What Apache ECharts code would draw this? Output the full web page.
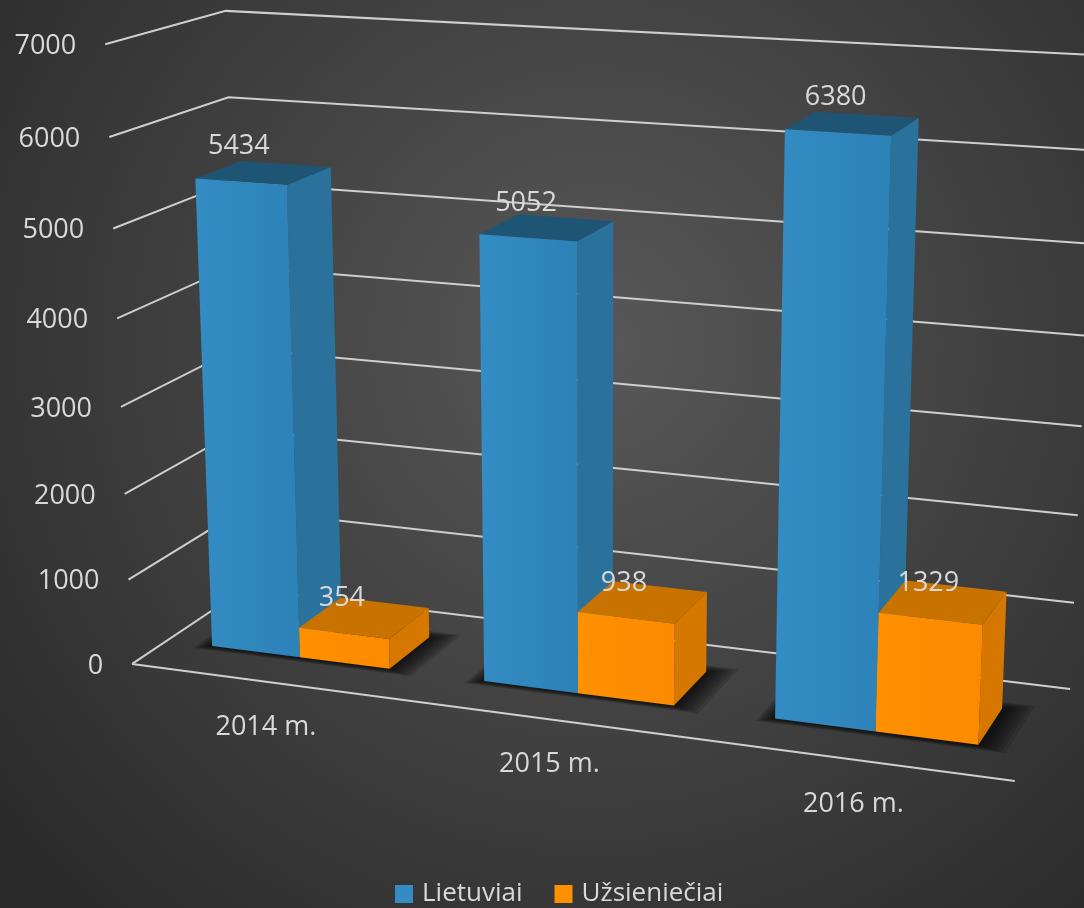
<!DOCTYPE html>
<html>
<head>
<meta charset="utf-8">
<script src="https://cdn.jsdelivr.net/npm/echarts@6/dist/echarts.min.js"></script>
<style>
  html, body { margin: 0; padding: 0; background: #2b2b2b; }
  #main { width: 1084px; height: 908px; }
</style>
</head>
<body>
<div id="main"></div>
<script>
// data
const categories = ['2014 m.', '2015 m.', '2016 m.'];
const lietuviai = [5434, 5052, 6380];
const uzsienieciai = [354, 938, 1329];
const yTicks = [0, 1000, 2000, 3000, 4000, 5000, 6000, 7000];

// frame of the 3d box: [u, y, depth, px, py]
// u: 0..1 left-right, y: 0..1 bottom-top, depth: 0 front .. 1 back
const frameRefs = [
    [0, 1, 0, 105, 44],
    [0, 6 / 7, 0, 110, 137],
    [0, 4 / 7, 0, 117, 319],
    [0, 1 / 7, 0, 128, 580],
    [0, 0, 0, 132, 664],
    [0, 1, 1, 226, 11],
    [0, 6 / 7, 1, 228, 97],
    [0, 0, 1, 245, 588],
    [1, 0, 0, 1015, 780],
    [1, 0, 1, 1070, 690],
    [1, 1, 1, 1098, 55]
];

// least squares fit of a 3x4 perspective matrix (DLT)
function fitProjection(refs) {
    const A = [], b = [];
    refs.forEach(function (r) {
        const X = r[0], Y = r[1], Z = r[2], x = r[3], y = r[4];
        A.push([X, Y, Z, 1, 0, 0, 0, 0, -x * X, -x * Y, -x * Z]); b.push(x);
        A.push([0, 0, 0, 0, X, Y, Z, 1, -y * X, -y * Y, -y * Z]); b.push(y);
    });
    const n = 11, M = [];
    for (let i = 0; i < n; i++) {
        M.push([]);
        for (let j = 0; j <= n; j++) {
            let s = 0;
            for (let k = 0; k < A.length; k++) s += A[k][i] * (j < n ? A[k][j] : b[k]);
            M[i].push(s);
        }
    }
    for (let i = 0; i < n; i++) {
        let p = i;
        for (let r = i + 1; r < n; r++) if (Math.abs(M[r][i]) > Math.abs(M[p][i])) p = r;
        const t = M[i]; M[i] = M[p]; M[p] = t;
        for (let r = 0; r < n; r++) {
            if (r === i) continue;
            const f = M[r][i] / M[i][i];
            for (let c = i; c <= n; c++) M[r][c] -= f * M[i][c];
        }
    }
    return M.map(function (row, i) { return row[n] / row[i]; });
}
const P = fitProjection(frameRefs);
function proj(u, y, d) {
    const w = P[8] * u + P[9] * y + P[10] * d + 1;
    return [
        (P[0] * u + P[1] * y + P[2] * d + P[3]) / w,
        (P[4] * u + P[5] * y + P[6] * d + P[7]) / w
    ];
}

// hidden flat grid: 1000 x 700 px, turned into u / y fractions
const GW = 1000, GH = 700;
const barShare = 0.33;
const depthFront = 0.3, depthBack = 0.7;
const textColor = '#d9d9d9';
const gridColor = '#cfcfcf';
const font = '27px "Open Sans"';

function poly(points, fill) {
    return { type: 'polygon', shape: { points: points }, style: { fill: fill } };
}

function barSeries(name, values, slot, colors) {
    return {
        name: name,
        type: 'custom',
        clip: false,
        z: 4,
        itemStyle: { color: colors.front },
        data: values.map(function (v, i) { return [i, v]; }),
        renderItem: function (params, api) {
            const top = api.coord([api.value(0), api.value(1)]);
            const bw = api.size([1, 0])[0] * barShare;
            const left = top[0] + (slot - 1) * bw;
            const u0 = left / GW, u1 = (left + bw) / GW;
            const yt = 1 - top[1] / GH;
            const f = depthFront, k = depthBack;
            const front = [proj(u0, 0, f), proj(u1, 0, f), proj(u1, yt, f), proj(u0, yt, f)];
            const side = [proj(u1, 0, f), proj(u1, 0, k), proj(u1, yt, k), proj(u1, yt, f)];
            const lid = [proj(u0, yt, f), proj(u1, yt, f), proj(u1, yt, k), proj(u0, yt, k)];
            const mid = proj((u0 + u1) / 2, yt, f);
            return {
                type: 'group',
                children: [
                    poly(side, colors.side),
                    poly(lid, colors.top),
                    {
                        type: 'polygon',
                        shape: { points: front },
                        style: {
                            fill: new echarts.graphic.LinearGradient(0, 0, 1, 0, [
                                { offset: 0, color: colors.front },
                                { offset: 1, color: colors.front2 }
                            ])
                        }
                    },
                    {
                        type: 'text',
                        x: mid[0] - 2,
                        y: mid[1] - 35,
                        style: {
                            text: String(api.value(1)),
                            fill: textColor,
                            font: font,
                            align: 'center',
                            verticalAlign: 'middle'
                        }
                    }
                ]
            };
        }
    };
}

const chart = echarts.init(document.getElementById('main'));

const option = {
    animation: false,
    graphic: [{
        type: 'rect',
        z: -10,
        silent: true,
        shape: { x: 0, y: 0, width: 1084, height: 908 },
        style: {
            fill: new echarts.graphic.RadialGradient(0.55, 0.38, 0.85, [
                { offset: 0, color: '#585858' },
                { offset: 1, color: '#2a2a2a' }
            ])
        }
    }],
    grid: { left: 0, top: 0, width: GW, height: GH, show: false },
    xAxis: { type: 'category', data: categories, show: false },
    yAxis: { type: 'value', min: 0, max: 7000, interval: 1000, show: false },
    legend: {
        data: ['Lietuviai', 'Užsieniečiai'],
        left: 395,
        top: 881,
        padding: 0,
        icon: 'rect',
        itemWidth: 18,
        itemHeight: 18,
        itemGap: 32,
        textStyle: { color: textColor, fontSize: 26, fontFamily: 'Open Sans', padding: [0, 0, 0, 4] }
    },
    series: [
        {
            // walls, gridlines and value labels
            type: 'custom',
            clip: false,
            silent: true,
            z: 1,
            data: yTicks.map(function (t) { return [0, t]; }),
            renderItem: function (params, api) {
                const y = 1 - api.coord([0, api.value(1)])[1] / GH;
                const a = proj(0, y, 0), b = proj(0, y, 1), c = proj(1, y, 1);
                const children = [
                    { type: 'polyline', shape: { points: [a, b, c] }, style: { stroke: gridColor, lineWidth: 2, fill: null } },
                    {
                        type: 'text', x: a[0] - 29, y: a[1] + 2,
                        style: { text: String(api.value(1)), fill: textColor, font: font, align: 'right', verticalAlign: 'middle' }
                    }
                ];
                if (api.value(1) === 0) {
                    const e = proj(1, 0, 0);
                    children.push({ type: 'line', shape: { x1: a[0], y1: a[1], x2: e[0], y2: e[1] }, style: { stroke: gridColor, lineWidth: 2 } });
                }
                return { type: 'group', children: children };
            }
        },
        {
            // category labels and soft bar shadows on the floor
            type: 'custom',
            clip: false,
            silent: true,
            z: 2,
            data: categories.map(function (c, i) { return [i, 0]; }),
            renderItem: function (params, api) {
                const c = api.coord([api.value(0), 0]);
                const bw = api.size([1, 0])[0] * barShare;
                const u0 = (c[0] - bw) / GW, u1 = (c[0] + bw) / GW, uc = c[0] / GW;
                const p = proj(uc, 0, 0);
                const children = [];
                // stacked translucent rings fake a blurred shadow
                for (let s = 1; s <= 7; s++) {
                    const a0 = u0 - 0.0025 * s, a1 = u1 + 0.0045 * s;
                    const d0 = depthFront - 0.007 * s, d1 = depthBack + 0.01 * s;
                    children.push({
                        type: 'polygon',
                        shape: { points: [proj(a0, 0, d0), proj(a1, 0, d0), proj(a1, 0, d1), proj(a0, 0, d1)] },
                        style: { fill: 'rgba(0,0,0,0.14)' }
                    });
                }
                children.push({
                    type: 'text', x: p[0] - 1, y: p[1] + 45,
                    style: { text: categories[api.value(0)], fill: textColor, font: font, align: 'center', verticalAlign: 'middle' }
                });
                return { type: 'group', children: children };
            }
        },
        barSeries('Lietuviai', lietuviai, 0, { front: '#338cc3', front2: '#2d82b8', side: '#2a729c', top: '#1f5574' }),
        barSeries('Užsieniečiai', uzsienieciai, 1, { front: '#ff9000', front2: '#fb8a00', side: '#d67800', top: '#c87200' })
    ]
};

chart.setOption(option);
</script>
</body>
</html>
